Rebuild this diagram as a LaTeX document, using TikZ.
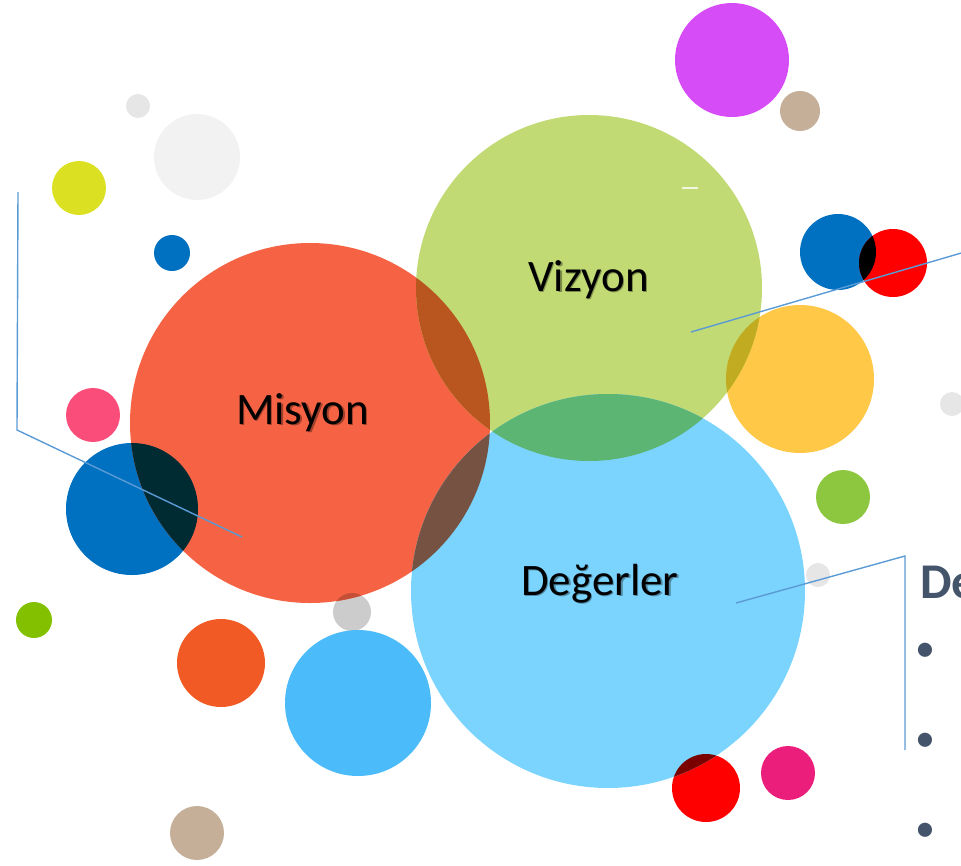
\documentclass[tikz,border=0pt]{standalone}
\usepackage{fontspec}
\setmainfont{Carlito}
\definecolor{misred}{HTML}{F56344}
\definecolor{vizgreen}{HTML}{C1DA74}
\definecolor{degblue}{HTML}{7BD4FD}
\definecolor{dblue}{HTML}{0070C0}
\definecolor{pured}{HTML}{FF0000}
\definecolor{magen}{HTML}{D64DF7}
\definecolor{tanc}{HTML}{C5AF98}
\definecolor{ygreen}{HTML}{DBE022}
\definecolor{lgrayA}{HTML}{E6E6E6}
\definecolor{lgrayB}{HTML}{F2F2F2}
\definecolor{yell}{HTML}{FFC846}
\definecolor{grnB}{HTML}{8DC63F}
\definecolor{pinkA}{HTML}{FA4D7A}
\definecolor{lgreen}{HTML}{83C000}
\definecolor{orng}{HTML}{F15A24}
\definecolor{grayM}{HTML}{CCCCCC}
\definecolor{skyb}{HTML}{4CBBFA}
\definecolor{pinkB}{HTML}{EB1F7B}
\definecolor{leadb}{HTML}{5B9BD5}
\definecolor{txtgrey}{HTML}{44546A}
\definecolor{ovRG}{HTML}{B9551F}
\definecolor{ovRB}{HTML}{765243}
\definecolor{ovGB}{HTML}{5DB573}
\definecolor{ovDR}{HTML}{002B33}
\definecolor{ovYG}{HTML}{C1AB20}
\definecolor{ovRsky}{HTML}{7B0000}
\definecolor{ovGM}{HTML}{C44F36}
\newcommand\ovl[5]{\begin{scope}\clip (#1) circle (#2pt);\fill[#5] (#3) circle (#4pt);\end{scope}}
\newcommand\blob[3]{\fill[#3] (#1) circle (#2pt);}
\begin{document}
\begin{tikzpicture}[x=1pt,y=-1pt,
  leader/.style={draw=leadb, line width=1.4pt, line join=miter},
  lbl/.style={font=\fontsize{45}{54}\selectfont, inner sep=0pt, anchor=base west, text=black},
  lblshadow/.style={lbl, text=black, opacity=0.35},
  bul/.style={font=\fontsize{40}{46}\selectfont, inner sep=0pt, anchor=base, text=txtgrey}]
\useasboundingbox (0,0) rectangle (961,865);
% centres
\coordinate (mis) at (310,423);
\coordinate (viz) at (589,288);
\coordinate (deg) at (608,591);
\coordinate (mag) at (732,60);
\coordinate (tanA) at (800,111);
\coordinate (bTR) at (838,252);
\coordinate (rTR) at (893,263);
\coordinate (yel) at (800,379);
\coordinate (gR) at (952,404);
\coordinate (grn) at (843,497);
\coordinate (gD) at (818,575);
\coordinate (pnk) at (93,415);
\coordinate (dbl) at (132,509);
\coordinate (lgr) at (34,620);
\coordinate (org) at (221,663);
\coordinate (gM) at (352,612);
\coordinate (sky) at (358,703);
\coordinate (tanB) at (197,833);
\coordinate (rB) at (706,788);
\coordinate (pk2) at (788,773);
\coordinate (g1) at (138,106);
\coordinate (g2) at (197,157);
\coordinate (yg) at (79,188);
\coordinate (sb) at (172,253);
% small circles
\blob{g1}{12}{lgrayA}
\blob{g2}{43}{lgrayB}
\blob{yg}{27}{ygreen}
\blob{sb}{18}{dblue}
\blob{mag}{57}{magen}
\blob{tanA}{20}{tanc}
\blob{bTR}{38}{dblue}
\blob{rTR}{34}{pured}
\blob{yel}{74}{yell}
\blob{gR}{12}{lgrayA}
\blob{grn}{27}{grnB}
\blob{gD}{12}{lgrayA}
\blob{pnk}{27}{pinkA}
\blob{dbl}{66}{dblue}
\blob{lgr}{18}{lgreen}
\blob{org}{44}{orng}
\blob{gM}{19}{grayM}
\blob{tanB}{27}{tanc}
\blob{rB}{34}{pured}
\blob{pk2}{27}{pinkB}
% big circles
\blob{mis}{180}{misred}
\blob{viz}{173}{vizgreen}
\blob{deg}{197}{degblue}
\blob{sky}{73}{skyb}
% overlaps (multiply look)
\ovl{mis}{180}{viz}{173}{ovRG}
\ovl{mis}{180}{deg}{197}{ovRB}
\ovl{viz}{173}{deg}{197}{ovGB}
\ovl{mis}{180}{dbl}{66}{ovDR}
\ovl{bTR}{38}{rTR}{34}{black}
\ovl{viz}{173}{yel}{74}{ovYG}
\ovl{deg}{197}{rB}{34}{ovRsky}
\ovl{mis}{180}{gM}{19}{ovGM}
% faint white dash
\coordinate (wd1) at (682,188);
\coordinate (wd2) at (698,188);
\draw[white, line width=1.2pt, opacity=0.8] (wd1) -- (wd2);
% leader lines
\coordinate (L1) at (18,192);
\coordinate (L2) at (17,430);
\coordinate (L3) at (242,537);
\draw[leader] (L1) -- (L2) -- (L3);
\coordinate (V1) at (691,332);
\coordinate (V2) at (975,249);
\draw[leader] (V1) -- (V2);
\coordinate (D1) at (736,603);
\coordinate (D2) at (905,556);
\coordinate (D3) at (905,750);
\draw[leader] (D1) -- (D2) -- (D3);
% labels with shadow
\node[lblshadow] (misS) at (237.5,425.5) {Misyon};
\node[lbl] (misT) at (236,424) {Misyon};
\node[lblshadow] (vizS) at (529.5,292.5) {Vizyon};
\node[lbl] (vizT) at (528,291) {Vizyon};
\node[lblshadow] (degS) at (522.5,596.5) {Değerler};
\node[lbl] (degT) at (521,595) {Değerler};
% right side text
\node[font=\fontsize{50}{60}\selectfont\bfseries, text=txtgrey, inner sep=0pt, anchor=base west] (deTitle) at (920,598) {De};
\node[bul] (b1) at (925,661) {•};
\node[bul] (b2) at (925,751) {•};
\node[bul] (b3) at (925,841) {•};
\end{tikzpicture}
\end{document}
